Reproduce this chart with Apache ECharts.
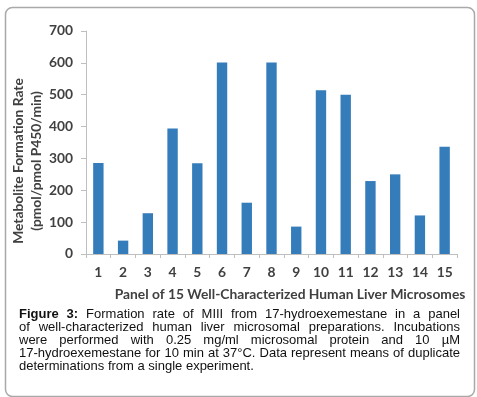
<!DOCTYPE html>
<html>
<head>
<meta charset="utf-8">
<script src="https://cdn.jsdelivr.net/npm/echarts@6/dist/echarts.min.js"></script>
<style>
  html, body { margin: 0; padding: 0; background: #fff; }
  #main { width: 477px; height: 397px; }
</style>
</head>
<body>
<div id="main"></div>
<script>
// panels 1..15
var categories = ['1','2','3','4','5','6','7','8','9','10','11','12','13','14','15'];
// formation rate, pmol/pmol P450/min
var rates = [286, 42, 128, 394, 285, 601, 161, 601, 86, 514, 500, 229, 250, 121, 337];
var yTitle = ['Metabolite Formation Rate', '(pmol/pmol P450/min)'];
var xTitle = 'Panel of 15 Well-Characterized Human Liver Microsomes';
var captionLines = [
  'Figure 3: Formation rate of MIII from 17-hydroexemestane in a panel',
  'of well-characterized human liver microsomal preparations. Incubations',
  'were performed with 0.25 mg/ml microsomal protein and 10 \u00b5M',
  '17-hydroexemestane for 10 min at 37\u00b0C. Data represent means of duplicate',
  'determinations from a single experiment.'
];

var labelFont = 'Lato';
var labelSize = 13.8;
var capFamily = '"Liberation Sans", Arial, sans-serif';
var capSize = 13;

// measure words so caption lines can be justified like the journal layout
var ctx = document.createElement('canvas').getContext('2d');
function textW(str, bold) {
  ctx.font = (bold ? 'bold ' : '') + capSize + 'px ' + capFamily;
  return ctx.measureText(str).width;
}

function captionGraphics() {
  var out = [];
  var x0 = 19, x1 = 460, y0 = 315, lh = 13;
  captionLines.forEach(function (line, i) {
    var words = line.split(' ');
    var bold = words.map(function (w, k) { return i === 0 && k < 2; });
    var widths = words.map(function (w, k) { return textW(w, bold[k]); });
    var total = widths.reduce(function (a, b) { return a + b; }, 0);
    var last = i === captionLines.length - 1;
    var gap = last ? textW(' ', false) : (x1 - x0 - total) / (words.length - 1);
    var x = x0;
    words.forEach(function (w, k) {
      out.push({
        type: 'text', left: x, top: y0 + i * lh - 7,
        style: {
          text: w, fill: '#111',
          font: (bold[k] ? 'bold ' : '') + capSize + 'px ' + capFamily
        }
      });
      x += widths[k] + gap;
    });
  });
  return out;
}

var chart = echarts.init(document.getElementById('main'));
chart.setOption({
  backgroundColor: '#fff',
  animation: false,
  grid: { left: 86, right: 20, top: 31, bottom: 143 },
  xAxis: {
    type: 'category',
    data: categories,
    axisLine: { lineStyle: { color: '#bfbfbf', width: 1 } },
    axisTick: { show: true, length: 4, lineStyle: { color: '#bfbfbf' } },
    axisLabel: { margin: 12, color: '#404040', fontFamily: labelFont, fontWeight: 'bold', fontSize: labelSize }
  },
  yAxis: {
    type: 'value',
    min: 0, max: 700, interval: 100,
    splitLine: { show: false },
    axisLine: { show: true, lineStyle: { color: '#bfbfbf', width: 1 } },
    axisTick: { show: true, length: 5, lineStyle: { color: '#bfbfbf' } },
    axisLabel: { margin: 13, color: '#404040', fontFamily: labelFont, fontWeight: 'bold', fontSize: labelSize }
  },
  series: [{
    type: 'bar',
    data: rates,
    barWidth: '42%',
    itemStyle: { color: '#357cba' }
  }],
  graphic: [
    {
      type: 'rect', left: 3, top: 5,
      shape: { width: 469, height: 389, r: 7 },
      style: { fill: 'none', stroke: '#a9a9a9', lineWidth: 1.5 },
      z: 0
    },
    {
      type: 'text', x: 19, y: 161, rotation: Math.PI / 2,
      style: {
        text: yTitle[0], fill: '#404040', align: 'center', verticalAlign: 'middle',
        font: 'bold ' + labelSize + 'px ' + labelFont
      }
    },
    {
      type: 'text', x: 37, y: 161, rotation: Math.PI / 2,
      style: {
        text: yTitle[1], fill: '#404040', align: 'center', verticalAlign: 'middle',
        font: 'bold ' + labelSize + 'px ' + labelFont
      }
    },
    {
      type: 'text', x: 290, y: 295,
      style: {
        text: xTitle, fill: '#404040', align: 'center', verticalAlign: 'middle',
        font: 'bold ' + labelSize + 'px ' + labelFont
      }
    }
  ].concat(captionGraphics())
});
</script>
</body>
</html>
